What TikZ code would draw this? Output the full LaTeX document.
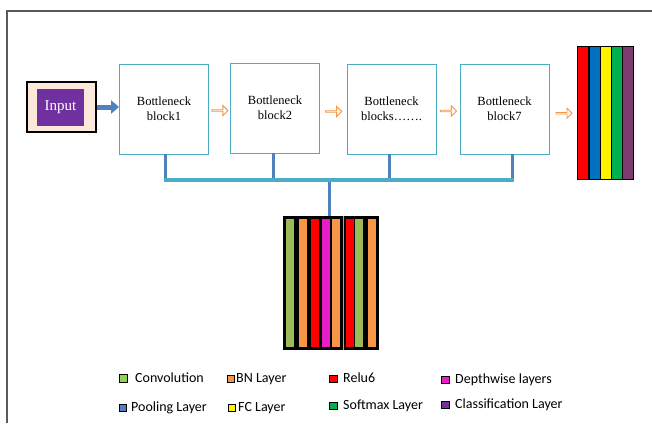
\documentclass[tikz,border=0pt]{standalone}
\usepackage{fontspec}
\setmainfont{Liberation Serif}
\newfontfamily\legfont{Carlito}
\usetikzlibrary{arrows.meta,shapes.arrows,calc}
\definecolor{boxblue}{RGB}{75,172,198}
\definecolor{steel}{RGB}{79,129,189}
\definecolor{peach}{RGB}{253,233,217}
\definecolor{inpurple}{RGB}{112,48,160}
\definecolor{arrorange}{RGB}{247,150,70}
\definecolor{convgreen}{RGB}{155,187,89}
\definecolor{leggreen}{RGB}{146,208,80}
\definecolor{bnorange}{RGB}{247,150,70}
\definecolor{magent}{RGB}{230,30,200}
\definecolor{outblue}{RGB}{0,112,192}
\definecolor{outgreen}{RGB}{0,176,80}
\definecolor{outpurple}{RGB}{128,58,114}
\definecolor{framegray}{RGB}{90,90,90}
\begin{document}
\begin{tikzpicture}[x=1pt,y=-1pt,
  block/.style={draw=boxblue, line width=0.9pt, fill=white, minimum width=89pt, minimum height=90pt,
    inner sep=0pt, align=center, font=\fontsize{12.5}{15}\selectfont},
  hollowarrow/.style={single arrow, draw=arrorange, fill=white, line width=0.9pt, minimum height=16pt,
    minimum width=10pt, single arrow head extend=2.5pt, inner sep=0pt},
  busv/.style={draw=steel, line width=3pt},
  busH/.style={draw=boxblue, line width=4pt},
  bar/.style={draw=black, line width=1.2pt},
  legsq/.style={draw=black, line width=0.8pt, minimum width=7.5pt, minimum height=7.5pt, inner sep=0pt},
  legtxt/.style={anchor=west, inner sep=0pt, font=\legfont\fontsize{14}{14}\selectfont}
]
\useasboundingbox (0,0) rectangle (652,423);
% frame
\draw[framegray, line width=1.8pt] (7,423) -- (7,11) -- (652,11);

% input
\node[draw=black, line width=1.2pt, fill=peach, minimum width=69pt, minimum height=50pt, inner sep=0pt] (inp) at (61.5,107) {};
\node[fill=inpurple, minimum width=47pt, minimum height=37pt, inner sep=0pt, text=white,
  font=\fontsize{15}{15}\selectfont] (inpl) at (60.5,107.5) {Input};

% blocks
\node[block] (b1) at (164,109) {Bottleneck\\block1};
\node[block] (b2) at (275,108) {Bottleneck\\block2};
\node[block] (b3) at (391.5,109) {Bottleneck\\blocks…….};
\node[block] (b4) at (504.5,109) {Bottleneck\\block7};

% input arrow
\draw[steel, line width=5pt, -{Triangle[length=8pt,width=13pt]}] (inp.east) -- (inp.east -| b1.west);

% output stack
\node[minimum width=56pt, minimum height=133pt, inner sep=0pt] (out) at (606,113.5) {};
\foreach \i/\c in {0/red,1/outblue,2/yellow,3/outgreen,4/outpurple}{
  \draw[bar, fill=\c] ($(out.north west)+(\i*11.2,0)$) rectangle ++(11.2,133);
}

% hollow arrows
\node[hollowarrow] (a1) at ($(b1.east)!0.5!(b2.west)+(0,2)$) {};
\node[hollowarrow] (a2) at ($(b2.east)!0.5!(b3.west)+(0,3)$) {};
\node[hollowarrow] (a3) at ($(b3.east)!0.5!(b4.west)+(0,2)$) {};
\node[hollowarrow] (a4) at ($(b4.east)!0.5!(out.west)+(0,2)$) {};

% feature stack
\node[fill=black, minimum width=96pt, minimum height=134pt, inner sep=0pt] (feat) at (331,283) {};
\draw[gray!70, line width=0.6pt] ($(feat.north west)+(60,0)$) -- ($(feat.south west)+(60,0)$);
\foreach \x/\c in {286/convgreen,299/bnorange,311/red,322/magent,332/bnorange,346/red,355/convgreen,368/bnorange}{
  \fill[\c] (\x,219) rectangle ++(8,128);
}

% bus
\coordinate (j1) at ($(b1.south)+(1,26)$);
\coordinate (j4) at ($(b4.south)+(7.5,26)$);
\draw[busv] ($(b1.south)+(1,0)$) -- (j1);
\draw[busv] ($(b2.south)+(-2,0)$) -- ($(b2.south)+(-2,27)$);
\draw[busv] ($(b3.south)+(-2,0)$) -- ($(b3.south)+(-2,26)$);
\draw[busv] ($(b4.south)+(7.5,0)$) -- (j4);
\draw[busv] ($(feat.north)+(-2,-36)$) -- ($(feat.north)+(-2,0)$);
\draw[busH] ($(j1)+(-1.5,0)$) -- ($(j4)+(1.5,0)$);

% legend
\node[legsq, fill=leggreen] (s1) at (123.5,378.5) {};
\node[legtxt] (t1) at (135,378) {Convolution};
\node[legsq, fill=bnorange] (s2) at (231,379) {};
\node[legtxt] (t2) at (236,379) {BN Layer};
\node[legsq, fill=red] (s3) at (333.5,379) {};
\node[legtxt] (t3) at (343,378) {Relu6};
\node[legsq, fill=magent] (s4) at (445.5,380) {};
\node[legtxt] (t4) at (455,380) {Depthwise layers};
\node[legsq, fill=steel] (s5) at (123,408) {};
\node[legtxt] (t5) at (131,408) {Pooling Layer};
\node[legsq, fill=yellow] (s6) at (232,408) {};
\node[legtxt] (t6) at (238,408) {FC Layer};
\node[legsq, fill=outgreen] (s7) at (333.5,406) {};
\node[legtxt] (t7) at (343,406) {Softmax Layer};
\node[legsq, fill=inpurple] (s8) at (445.5,405) {};
\node[legtxt] (t8) at (455,405) {Classification Layer};
\end{tikzpicture}
\end{document}
